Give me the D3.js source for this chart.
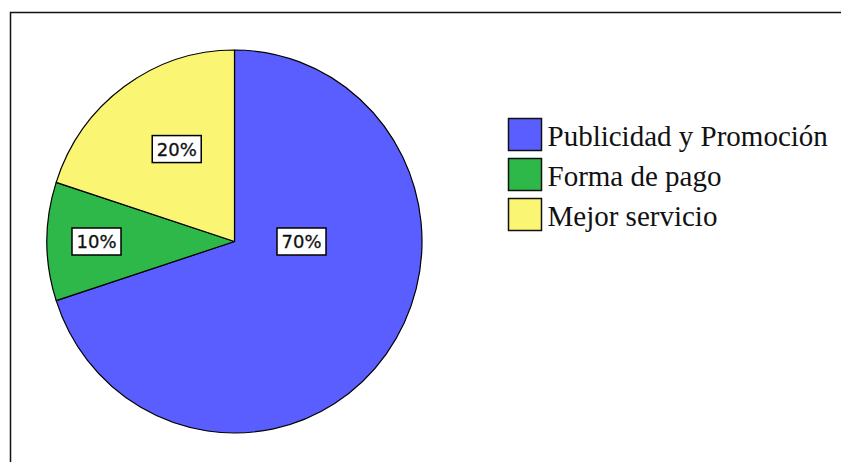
<!DOCTYPE html>
<html>
<head>
<meta charset="utf-8">
<script src="https://cdn.jsdelivr.net/npm/d3@7"></script>
<style>
    html, body { margin: 0; padding: 0; background: #fff; }
    svg { display: block; }
</style>
</head>
<body>
<svg id="pie-chart"></svg>
<script>
(function() {

    // Data.
    const categories = ['Publicidad y Promoción', 'Forma de pago', 'Mejor servicio'];
    const percents = [70, 10, 20];
    const colors = ['#5b5eff', '#2fb84a', '#faf573'];

    const w = 841;
    const h = 462;

    // Pie geometry (slightly taller than wide, as in the picture).
    const cx = 234.5;
    const cy = 241.5;
    const rx = 187.5;
    const ry = 191.5;

    // Where the percentage boxes sit: [angle in degrees clockwise from 12 o'clock, distance].
    const labelPolar = [[90, 67], [270, 138], [328, 109]];

    const svg = d3.select('#pie-chart')
        .attr('width', w)
        .attr('height', h);

    // Frame lines top and left.
    svg.append('path')
        .attr('d', `M10.5,${h} L10.5,12.5 L${w},12.5`)
        .attr('fill', 'none')
        .attr('stroke', '#111')
        .attr('stroke-width', 1.5);

    const pie = d3.pie().sort(null).value(d => d);
    const arcs = pie(percents);

    const arc = d3.arc().innerRadius(0).outerRadius(ry);

    const pieG = svg.append('g')
        .attr('transform', `translate(${cx}, ${cy}) scale(${rx / ry}, 1)`);

    pieG.selectAll('path')
        .data(arcs)
        .enter()
        .append('path')
        .attr('d', arc)
        .attr('fill', (d, i) => colors[i])
        .attr('stroke', '#000')
        .attr('stroke-width', 1.2)
        .attr('vector-effect', 'non-scaling-stroke')
        .attr('stroke-linejoin', 'round');

    // Percentage labels in white boxes.
    const labels = svg.append('g');
    arcs.forEach((d, i) => {
        const a = labelPolar[i][0] * Math.PI / 180;
        const x = cx + Math.sin(a) * labelPolar[i][1];
        const y = cy - Math.cos(a) * labelPolar[i][1];
        const g = labels.append('g').attr('transform', `translate(${x}, ${y})`);
        g.append('rect')
            .attr('x', -24.5)
            .attr('y', -13.5)
            .attr('width', 49)
            .attr('height', 27)
            .attr('fill', '#fff')
            .attr('stroke', '#000')
            .attr('stroke-width', 1.5);
        g.append('text')
            .attr('text-anchor', 'middle')
            .attr('dy', '0.36em')
            .style('font-family', '"DejaVu Sans", sans-serif')
            .style('font-size', '18px')
            .attr('fill', '#111')
            .attr('stroke', '#111')
            .attr('stroke-width', 0.3)
            .text(d3.format('.0f')(d.data) + '%');
    });

    // Legend.
    const legend = svg.append('g').attr('transform', 'translate(508.5, 118.5)');
    const item = legend.selectAll('g')
        .data(categories)
        .enter()
        .append('g')
        .attr('transform', (d, i) => `translate(0, ${i * 40})`);

    item.append('rect')
        .attr('width', 33)
        .attr('height', 32)
        .attr('fill', (d, i) => colors[i])
        .attr('stroke', '#111')
        .attr('stroke-width', 1.5);

    item.append('text')
        .attr('x', 39)
        .attr('y', 27)
        .style('font-family', '"Liberation Serif", "Times New Roman", Times, serif')
        .style('font-size', '29px')
        .attr('fill', '#111')
        .text(d => d);

})();
</script>
</body>
</html>
